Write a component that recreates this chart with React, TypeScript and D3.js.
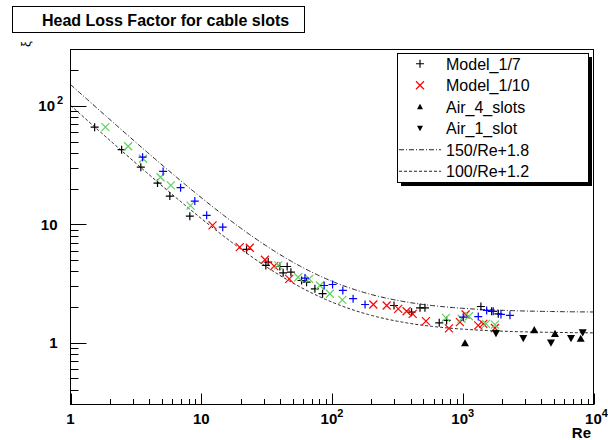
import React from "react";
import * as d3 from "d3";

// ---- data ----
const model17Re = [1.53, 2.46, 3.45, 4.63, 5.75, 8.18, 22.2, 32.5, 31.2, 39.9, 45.4, 42.3, 48.5, 58.5, 63.9, 74.0, 84.7, 298, 406, 471, 514, 661, 753, 1377, 1664, 1870];
const model17Xi = [66.2, 42.7, 30.4, 22.3, 17.3, 11.7, 6.13, 4.79, 4.49, 4.40, 4.40, 3.89, 3.94, 3.35, 3.24, 2.85, 2.59, 2.06, 1.81, 1.97, 1.97, 1.47, 1.54, 2.02, 1.84, 1.75];

const model110Re = [12.2, 19.7, 23.5, 30.7, 36.1, 47.1, 207, 262, 321, 372, 414, 523, 784, 952, 1052, 1314, 1435, 1763];
const model110Xi = [9.78, 6.41, 6.33, 5.02, 4.43, 3.46, 2.10, 2.06, 1.93, 1.84, 1.75, 1.52, 1.32, 1.49, 1.73, 1.40, 1.44, 1.33];

const greenRe = [1.85, 2.76, 3.59, 4.88, 5.85, 8.28, 38.8, 55.1, 66.9, 80.8, 96.4, 120, 744, 981, 1115, 1505, 1763];
const greenXi = [66.2, 45.7, 35.8, 25.0, 21.3, 14.4, 4.49, 3.57, 3.46, 3.04, 2.59, 2.30, 1.62, 1.59, 1.67, 1.44, 1.42];

const blueRe = [3.56, 5.11, 6.95, 8.93, 11.0, 14.6, 62.1, 87.1, 101, 121, 145, 179, 1009, 1314, 1524, 1711, 1960, 2296];
const blueXi = [36.9, 28.0, 20.4, 15.7, 11.9, 9.46, 3.51, 3.04, 3.10, 2.76, 2.35, 2.10, 1.64, 1.66, 1.87, 1.84, 1.73, 1.70];

const air4Re = [1040, 3524, 5075, 7980];
const air4Xi = [0.99, 1.28, 1.19, 1.08];

const air1Re = [1795, 2903, 4730, 6730, 8270];
const air1Xi = [1.20, 1.09, 1.00, 1.09, 1.22];

// fit curves: a/Re + b
const fitA = [150, 100];
const fitB = [1.8, 1.2];
const fitNames = ["150/Re+1.8", "100/Re+1.2"];

const legendNames = ["Model_1/7", "Model_1/10", "Air_4_slots", "Air_1_slot"];
const xTickLabels = ["1", "10", "10", "10", "10"];
const xTickSups = ["", "", "2", "3", "4"];
const yTickLabels = ["1", "10", "10"];
const yTickSups = ["", "", "2"];
const titleText = "Head Loss Factor for cable slots";

const FONT = "'Liberation Sans', Arial, Helvetica, sans-serif";

export default function App() {
  const W = 608, H = 440;
  const x = d3.scaleLog().domain([1, 1e4]).range([70.5, 593.5]);
  const y = d3.scaleLog().domain([0.3, 300]).range([404.5, 49.5]);

  const xMajor = [1, 10, 100, 1000, 10000];
  const xMinor: number[] = [];
  for (let e = 0; e < 4; e++) for (let k = 2; k <= 9; k++) xMinor.push(k * Math.pow(10, e));
  const yMajor = [1, 10, 100];
  const yMinor: number[] = [];
  for (let e = -1; e < 3; e++) for (let k = 2; k <= 9; k++) {
    const v = k * Math.pow(10, e);
    if (v > 0.3 + 1e-9 && v < 300 - 1e-9) yMinor.push(v);
  }

  const samples = d3.range(0, 4.0001, 0.01).map((l) => Math.pow(10, l));
  const line = d3.line<[number, number]>().x((d) => x(d[0])).y((d) => y(d[1]));
  const fitPaths = fitA.map((a, i) => line(samples.map((r) => [r, a / r + fitB[i]] as [number, number])) || "");
  const dashes = ["5,2,1,2", "3,2"];

  const plus = (cx: number, cy: number, color: string, key: string) => (
    <path key={key} d={`M${cx - 4},${cy}H${cx + 4}M${cx},${cy - 4}V${cy + 4}`} stroke={color} strokeWidth={1.2} fill="none" />
  );
  const cross = (cx: number, cy: number, color: string, key: string) => (
    <path key={key} d={`M${cx - 4},${cy - 4}L${cx + 4},${cy + 4}M${cx - 4},${cy + 4}L${cx + 4},${cy - 4}`} stroke={color} strokeWidth={1.2} fill="none" />
  );
  const triUp = (cx: number, cy: number, s: number, key: string) => (
    <path key={key} d={`M${cx},${cy - s}L${cx + s},${cy + s * 0.8}L${cx - s},${cy + s * 0.8}Z`} fill="#000" />
  );
  const triDown = (cx: number, cy: number, s: number, key: string) => (
    <path key={key} d={`M${cx},${cy + s}L${cx + s},${cy - s * 0.8}L${cx - s},${cy - s * 0.8}Z`} fill="#000" />
  );

  const legX0 = 397, legY0 = 53, legX1 = 588, legY1 = 182;
  const rowH = (legY1 - legY0) / 6;
  const rowY = (i: number) => legY0 + rowH * (i + 0.5);

  return (
    <svg width={W} height={H} style={{ position: "absolute", left: 0, top: 0, background: "#fff" }} fontFamily={FONT}>
      <rect x={0} y={0} width={W} height={H} fill="#fff" />
      {/* title */}
      <rect x={12.5} y={6.5} width={292} height={26} fill="#fff" stroke="#000" strokeWidth={1} />
      <text x={42} y={26} fontSize={16} fontWeight="bold" fill="#000">{titleText}</text>

      {/* fit curves */}
      <g clipPath="url(#clip)">
        {fitPaths.map((p, i) => (
          <path key={i} d={p} fill="none" stroke="#222" strokeWidth={1} strokeDasharray={dashes[i]} />
        ))}
      </g>
      <defs>
        <clipPath id="clip"><rect x={70.5} y={49.5} width={523} height={355} /></clipPath>
      </defs>

      {/* data */}
      {model17Re.map((r, i) => plus(x(r), y(model17Xi[i]), "#000", "a" + i))}
      {model110Re.map((r, i) => cross(x(r), y(model110Xi[i]), "#ff0000", "b" + i))}
      {greenRe.map((r, i) => cross(x(r), y(greenXi[i]), "#5fd35f", "c" + i))}
      {blueRe.map((r, i) => plus(x(r), y(blueXi[i]), "#0000ff", "d" + i))}
      {air4Re.map((r, i) => triUp(x(r), y(air4Xi[i]), 4, "e" + i))}
      {air1Re.map((r, i) => triDown(x(r), y(air1Xi[i]), 4, "f" + i))}

      {/* frame */}
      <rect x={70.5} y={49.5} width={523} height={355} fill="none" stroke="#000" strokeWidth={1} />

      {/* x ticks */}
      {xMajor.map((v) => (
        <line key={"xm" + v} x1={Math.round(x(v)) + 0.5} x2={Math.round(x(v)) + 0.5} y1={404.5} y2={393.5} stroke="#000" />
      ))}
      {xMinor.map((v) => (
        <line key={"xn" + v} x1={Math.round(x(v)) + 0.5} x2={Math.round(x(v)) + 0.5} y1={404.5} y2={399} stroke="#000" />
      ))}
      {xMajor.map((v, i) => (
        <text key={"xl" + v} x={x(v) + (i === 4 ? 3 : 0)} y={424} fontSize={15} fontWeight="bold" textAnchor="middle" fill="#000">
          {xTickLabels[i]}
          {xTickSups[i] && <tspan dy={-7} fontSize={11}>{xTickSups[i]}</tspan>}
        </text>
      ))}
      <text x={591} y={438} fontSize={15} fontWeight="bold" textAnchor="end" fill="#000">Re</text>

      {/* y ticks */}
      {yMajor.map((v) => (
        <line key={"ym" + v} x1={70.5} x2={86.5} y1={Math.round(y(v)) + 0.5} y2={Math.round(y(v)) + 0.5} stroke="#000" />
      ))}
      {yMinor.map((v) => (
        <line key={"yn" + v} x1={70.5} x2={78.5} y1={Math.round(y(v)) + 0.5} y2={Math.round(y(v)) + 0.5} stroke="#000" />
      ))}
      {yMajor.map((v, i) => (
        <text key={"yl" + v} x={yTickSups[i] ? 55 : 57.5} y={y(v) + 5.5} fontSize={15} fontWeight="bold" textAnchor="end" fill="#000">
          {yTickLabels[i]}
        </text>
      ))}
      {yMajor.map((v, i) =>
        yTickSups[i] ? (
          <text key={"ys" + v} x={57} y={y(v) - 2} fontSize={11} fontWeight="bold" fill="#000">{yTickSups[i]}</text>
        ) : null
      )}
      <text transform="translate(30,44) rotate(-90)" fontSize={13} textAnchor="middle" fill="#000">ξ</text>

      {/* legend */}
      <rect x={legX0 + 4} y={legY0 + 4} width={legX1 - legX0} height={legY1 - legY0} fill="#000" />
      <rect x={legX0 + 0.5} y={legY0 + 0.5} width={legX1 - legX0} height={legY1 - legY0} fill="#fff" stroke="#000" />
      {legendNames.map((n, i) => (
        <text key={"ln" + i} x={446} y={rowY(i) + 6} fontSize={16} fill="#000">{n}</text>
      ))}
      {fitNames.map((n, i) => (
        <text key={"lf" + i} x={446} y={rowY(i + 4) + 6} fontSize={16} fill="#000">{n}</text>
      ))}
      {plus(420, rowY(0), "#000", "lg0")}
      {cross(420, rowY(1), "#ff0000", "lg1")}
      {triUp(420, rowY(2), 3, "lg2")}
      {triDown(420, rowY(3), 3, "lg3")}
      {fitNames.map((n, i) => (
        <line key={"ll" + i} x1={399} x2={441} y1={rowY(i + 4)} y2={rowY(i + 4)} stroke="#222" strokeDasharray={dashes[i]} />
      ))}
    </svg>
  );
}
